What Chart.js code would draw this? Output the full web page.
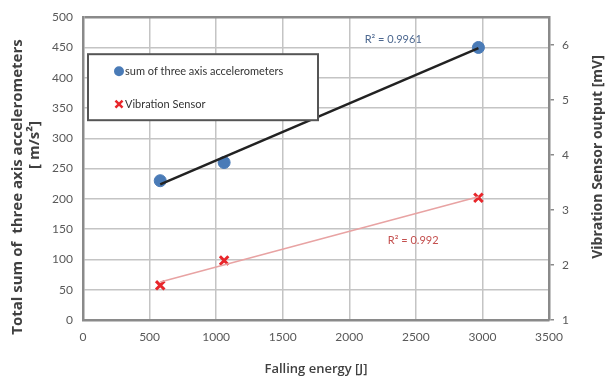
<!DOCTYPE html>
<html lang="en">
<head>
  <meta charset="UTF-8">
  <title>Falling energy</title>
  <script src="https://cdn.jsdelivr.net/npm/chart.js"></script>
  <style>
    body { margin: 0; background: #fff; }
    #wrap { width: 609px; height: 383px; }
  </style>
</head>
<body>
  <div id="wrap"><canvas id="chart" width="609" height="383"></canvas></div>

  <script>
    // values
    const energy = [580, 1060, 2970];
    const accelSum = [230, 260, 450];
    const sensorOut = [1.63, 2.08, 3.22];
    const trendEnergy = [580, 2970];
    const accelTrend = [224, 449];
    const sensorTrend = [1.69, 3.24];
    const rightTicks = [1, 2, 3, 4, 5, 6];
    const r2Accel = 'R² = 0.9961';
    const r2Sensor = 'R² = 0.992';

    const FONT = 'Lato, "Open Sans", sans-serif';
    const TITLE_FONT = '"Open Sans", Lato, sans-serif';
    const blue = '#4a7bb7';
    const red = '#e8262b';

    const pts = (xs, ys) => xs.map((x, i) => ({ x: x, y: ys[i] }));

    function vText(ctx, text, x, y, font) {
      ctx.save();
      ctx.translate(x, y);
      ctx.rotate(-Math.PI / 2);
      ctx.font = font;
      ctx.textAlign = 'center';
      ctx.textBaseline = 'middle';
      ctx.fillStyle = '#404040';
      ctx.fillText(text, 0, 0);
      ctx.restore();
    }

    const overlay = {
      id: 'overlay',
      afterDatasetsDraw(chart) {
        const ctx = chart.ctx;
        const area = chart.chartArea;
        const xs = chart.scales.x, ys = chart.scales.y;
        ctx.save();

        // legend box inside the plot
        const bx = area.left + 5, by = area.top + 37, bw = 230, bh = 66;
        ctx.fillStyle = '#fff';
        ctx.fillRect(bx, by, bw, bh);
        ctx.strokeStyle = '#555';
        ctx.lineWidth = 2;
        ctx.strokeRect(bx, by, bw, bh);

        ctx.font = '11px ' + FONT;
        ctx.textBaseline = 'middle';
        ctx.textAlign = 'left';
        ctx.fillStyle = blue;
        ctx.strokeStyle = blue;
        Chart.helpers.drawPoint(ctx, { pointStyle: 'circle', radius: 4, borderWidth: 1, rotation: 0 }, bx + 31, by + 17);
        ctx.fillStyle = '#333';
        ctx.fillText('sum of three axis accelerometers', bx + 37, by + 17);
        ctx.strokeStyle = red;
        ctx.lineWidth = 2.5;
        Chart.helpers.drawPoint(ctx, { pointStyle: 'crossRot', radius: 5, borderWidth: 2.5, rotation: 0 }, bx + 31, by + 50);
        ctx.fillStyle = '#333';
        ctx.fillText('Vibration Sensor', bx + 37, by + 50);

        // R² labels
        ctx.textAlign = 'center';
        ctx.font = '11px ' + FONT;
        ctx.fillStyle = '#4d6890';
        ctx.fillText(r2Accel, xs.getPixelForValue(2330), ys.getPixelForValue(463));
        ctx.fillStyle = '#c4504f';
        ctx.fillText(r2Sensor, xs.getPixelForValue(2480), ys.getPixelForValue(131));
        ctx.restore();

        // axis titles, reading bottom to top
        vText(ctx, 'Total sum of  three axis accelerometers', 18, 187, 'bold 15px ' + TITLE_FONT);
        vText(ctx, '[ m/s²]', 35, 145, 'bold 15px ' + TITLE_FONT);
        vText(ctx, 'Vibration Sensor output [mV]', 598, 157, 'bold 14px ' + TITLE_FONT);
      }
    };

    const tickFont = { family: FONT, size: 12 };

    new Chart(document.getElementById('chart'), {
      type: 'scatter',
      data: {
        datasets: [
          {
            label: 'trend accel',
            type: 'line',
            data: pts(trendEnergy, accelTrend),
            yAxisID: 'y',
            borderColor: '#222',
            borderWidth: 2.5,
            pointRadius: 0
          },
          {
            label: 'trend sensor',
            type: 'line',
            data: pts(trendEnergy, sensorTrend),
            yAxisID: 'y1',
            borderColor: '#e8a3a3',
            borderWidth: 1.5,
            pointRadius: 0
          },
          {
            label: 'sum of three axis accelerometers',
            data: pts(energy, accelSum),
            yAxisID: 'y',
            pointStyle: 'circle',
            pointRadius: 6,
            backgroundColor: blue,
            borderColor: blue
          },
          {
            label: 'Vibration Sensor',
            data: pts(energy, sensorOut),
            yAxisID: 'y1',
            pointStyle: 'crossRot',
            pointRadius: 6,
            borderWidth: 3,
            borderColor: red,
            backgroundColor: red
          }
        ]
      },
      options: {
        responsive: false,
        animation: false,
        layout: { padding: { top: 15, left: 0, right: 0, bottom: 0 } },
        plugins: {
          legend: { display: false },
          tooltip: { enabled: false }
        },
        scales: {
          x: {
            type: 'linear',
            min: 0,
            max: 3500,
            ticks: { stepSize: 500, font: tickFont, color: '#595959', padding: 10, callback: v => String(v) },
            grid: { color: '#c4c4c4', lineWidth: 1.5, drawTicks: false },
            border: { color: '#8a8a8a', width: 2.5 },
            title: {
              display: true,
              text: 'Falling energy [J]',
              font: { family: TITLE_FONT, size: 13, weight: '600' },
              color: '#404040',
              padding: { top: 0, bottom: 6 }
            },
            afterFit: s => { s.height = 63; }
          },
          y: {
            position: 'left',
            min: 0,
            max: 500,
            ticks: { stepSize: 50, font: tickFont, color: '#595959', padding: 10 },
            grid: {
              color: ctx => ctx.tick && ctx.tick.value === 500 ? '#8a8a8a' : '#c4c4c4',
              lineWidth: ctx => ctx.tick && ctx.tick.value === 500 ? 2.5 : 1.5,
              drawTicks: false
            },
            border: { color: '#8a8a8a', width: 2.5 },
            afterFit: s => { s.width = 83; }
          },
          y1: {
            position: 'right',
            min: 1,
            max: 6.5,
            afterBuildTicks: s => { s.ticks = rightTicks.map(v => ({ value: v })); },
            ticks: { font: tickFont, color: '#595959', padding: 8 },
            grid: { drawOnChartArea: false, color: '#8a8a8a', tickLength: 5, lineWidth: 1.5 },
            border: { color: '#8a8a8a', width: 2.5 },
            afterFit: s => { s.width = 60; }
          }
        }
      },
      plugins: [overlay]
    });
  </script>
</body>
</html>
